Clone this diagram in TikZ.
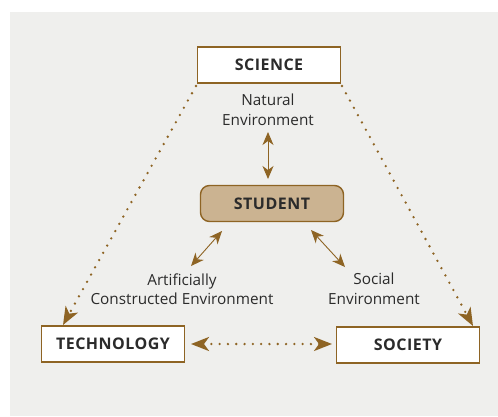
\documentclass[tikz,border=0pt]{standalone}
\usepackage{fontspec}
\setmainfont{Open Sans}
\newfontfamily\lblfont[LetterSpace=3]{Open Sans}
\usetikzlibrary{arrows.meta}
\definecolor{brn}{HTML}{8E6424}
\definecolor{stufill}{HTML}{CBB391}
\definecolor{bg}{HTML}{EFEFED}
\definecolor{txt}{HTML}{2B2B2B}
\tikzset{
  box/.style={draw=brn, line width=1.4pt, fill=white, minimum width=143pt, minimum height=36pt, inner sep=0pt, font=\lblfont\bfseries\fontsize{16}{18}\selectfont, text=txt},
  stubox/.style={box, fill=stufill, rounded corners=9pt},
  lbl/.style={font=\fontsize{15.3}{19.5}\selectfont, text=txt, align=center},
  solidarr/.style={draw=brn, line width=0.9pt, {Stealth[length=13pt,width=11pt,inset=4pt]}-{Stealth[length=13pt,width=11pt,inset=4pt]}},
  dotline/.style={draw=brn, line width=2.6pt, line cap=round, dash pattern=on 0pt off 8.3pt},
  dtip/.style={-{Stealth[length=18pt,width=14pt,inset=5pt]}},
  dtips/.style={{Stealth[length=18pt,width=14pt,inset=5pt]}-{Stealth[length=18pt,width=14pt,inset=5pt]}}
}
\begin{document}
\begin{tikzpicture}[x=1pt,y=-1pt]
\useasboundingbox (0,0) rectangle (498,416);
\fill[bg] (10,12) rectangle (498,416);
\node[box] (sci) at (269,65) {SCIENCE};
\node[stubox] (stu) at (272,203.5) {STUDENT};
\node[box] (tech) at (113,344) {TECHNOLOGY};
\node[box] (soc) at (408,345) {SOCIETY};
\node[lbl] (nat) at (268,110) {Natural\\Environment};
\node[lbl] (art) at (182,289) {Artificially\\Constructed Environment};
\node[lbl] (socenv) at (374,289) {Social\\Environment};
\coordinate (n1) at (268,132);
\coordinate (n2) at (268,179);
\draw[solidarr] (n1) -- (n2);
\coordinate (a1) at (222,231);
\coordinate (a2) at (191,266);
\draw[solidarr] (a1) -- (a2);
\coordinate (s1) at (311,230);
\coordinate (s2) at (345,267);
\draw[solidarr] (s1) -- (s2);
% dotted connectors
\coordinate (l1) at (196,86);
\coordinate (l2) at (63,325);
\coordinate (r1) at (342,86);
\coordinate (r2) at (473,326);
\coordinate (h1) at (191,344);
\coordinate (h2) at (332,344);
\draw[dotline,dtip] (l1) -- (l2);
\draw[dotline,dtip] (r1) -- (r2);
\draw[dotline,dtips] (h1) -- (h2);
\end{tikzpicture}
\end{document}
